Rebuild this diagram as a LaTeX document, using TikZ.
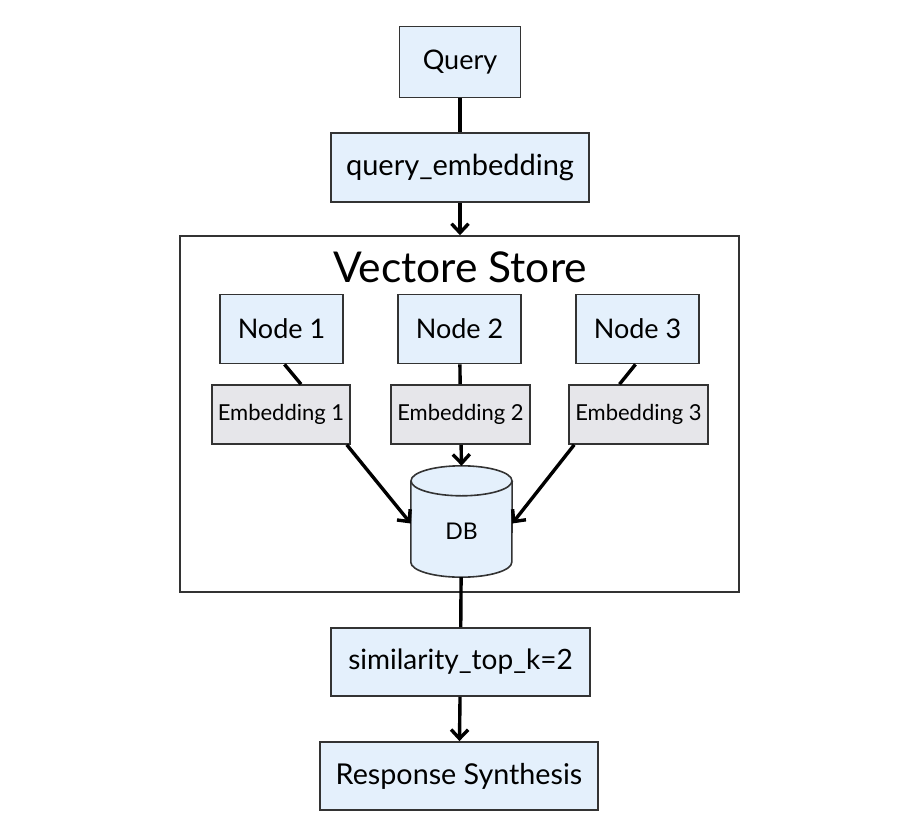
\documentclass[tikz,border=0pt]{standalone}
\usepackage{fontspec}
\setmainfont{Lato}
\usetikzlibrary{arrows.meta,calc}
\definecolor{boxblue}{HTML}{E4F0FC}
\definecolor{boxgray}{HTML}{E6E6EA}
\definecolor{edge}{HTML}{333333}
\newcommand{\fsz}[1]{\fontsize{#1}{#1}\selectfont}
\tikzset{
  box/.style={draw=edge, line width=1.8pt, fill=boxblue, inner sep=0pt, font=\fsz{27}},
  embbox/.style={draw=edge, line width=1.6pt, fill=boxgray, inner sep=0pt, font=\fsz{22}},
  link/.style={line width=3.4pt, black},
  arr/.style={link, -{Straight Barb[length=9pt,width=17pt]}},
}
\begin{document}
\begin{tikzpicture}[x=1pt,y=-1pt]
\useasboundingbox (0,0) rectangle (908,828);
\node[box, minimum width=121pt, minimum height=71pt] (query) at (460,62) {Query};
\node[box, minimum width=258pt, minimum height=69pt, font=\fsz{29}] (qemb) at (460,167.5) {query\_embedding};
\node[draw=edge, line width=1.6pt, minimum width=559pt, minimum height=356pt, inner sep=0pt] (store) at (459.5,414) {};
\node[font=\fsz{42.5}, inner sep=0pt] (title) at (460,267) {Vectore Store};
\node[box, minimum width=123pt, minimum height=69pt] (n1) at (281.5,329) {Node 1};
\node[box, minimum width=123pt, minimum height=69pt] (n2) at (459.5,329) {Node 2};
\node[box, minimum width=123pt, minimum height=69pt] (n3) at (637.5,329) {Node 3};
\node[embbox, minimum width=138pt, minimum height=59pt] (e1) at (281,414.5) {Embedding 1};
\node[embbox, minimum width=139pt, minimum height=59pt] (e2) at (460.5,414.5) {Embedding 2};
\node[embbox, minimum width=139pt, minimum height=59pt] (e3) at (638.5,414.5) {Embedding 3};
% DB cylinder: bounding node plus drawn outline
\node[minimum width=101pt, minimum height=111pt, inner sep=0pt] (db) at (461.5,521.5) {};
\fill[boxblue] ($(db.north west)+(0,-15pt)$) arc[start angle=180, end angle=0, x radius=50.5pt, y radius=15pt]
  -- ($(db.south east)+(0,15pt)$) arc[start angle=0, end angle=-180, x radius=50.5pt, y radius=15pt] -- cycle;
\draw[edge, line width=1.6pt] ($(db.north west)+(0,-15pt)$) -- ($(db.south west)+(0,15pt)$)
  arc[start angle=180, end angle=360, x radius=50.5pt, y radius=15pt] -- ($(db.north east)+(0,-15pt)$);
\draw[edge, line width=1.6pt] ($(db.north)+(0,-15pt)$) ellipse[x radius=50.5pt, y radius=15pt];
\node[font=\fsz{23}, inner sep=0pt] (dbl) at (461.5,531) {DB};
\node[box, minimum width=259pt, minimum height=68pt, font=\fsz{28}] (sim) at (460.5,662) {similarity\_top\_k=2};
\node[box, minimum width=278pt, minimum height=68pt, font=\fsz{28.7}] (resp) at (459,776) {Response Synthesis};
\draw[link] (query) -- (qemb);
\draw[arr] (qemb.south) -- (qemb.south |- store.north);
\draw[link] ($(n1.south)+(3pt,0)$) -- ($(e1.north)+(20pt,0)$);
\draw[link] (n2) -- (e2);
\draw[link] ($(n3.south)+(-2pt,0)$) -- ($(e3.north)+(-19pt,0)$);
\draw[arr] ($(e1.south east)+(-4pt,0)$) -- ($(db.west)+(0,-2pt)$);
\draw[arr] (e2) -- (db.north);
\draw[arr] ($(e3.south west)+(6pt,0)$) -- ($(db.east)+(0,-2pt)$);
\draw[link] (db) -- (sim);
\draw[arr] (sim) -- (resp);
\end{tikzpicture}
\end{document}
